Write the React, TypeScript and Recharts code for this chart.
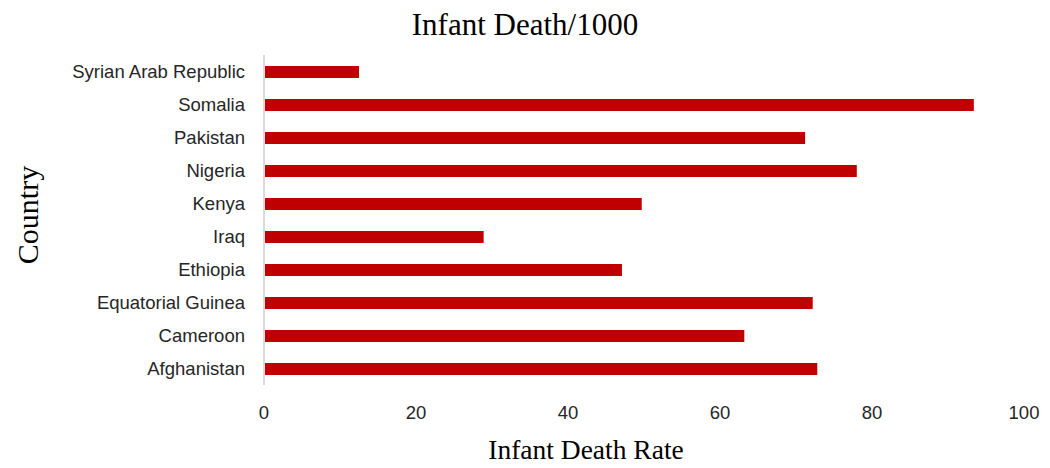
import { BarChart, Bar, XAxis, YAxis } from "recharts";

// listed bottom-to-top as in the source sheet
const countries = [
  "Afghanistan",
  "Cameroon",
  "Equatorial Guinea",
  "Ethiopia",
  "Iraq",
  "Kenya",
  "Nigeria",
  "Pakistan",
  "Somalia",
  "Syrian Arab Republic",
];
const deathRates = [72.8, 63.2, 72.2, 47.1, 28.9, 49.7, 78.0, 71.2, 93.4, 12.5];
const xTicks = [0, 20, 40, 60, 80, 100];

const data = countries.map((country, i) => ({ country, rate: deathRates[i] }));

const serif = "'Liberation Serif', 'Times New Roman', serif";
const sans = "'Liberation Sans', Arial, sans-serif";

export default function App() {
  return (
    <div style={{ position: "absolute", left: 0, top: 0, width: 1050, height: 468, background: "#fff" }}>
      <div
        style={{
          position: "absolute",
          left: 0,
          width: 1050,
          top: 8,
          textAlign: "center",
          fontFamily: serif,
          fontSize: 31,
          color: "#000",
          lineHeight: "34px",
        }}
      >
        Infant Death/1000
      </div>
      <BarChart
        width={1050}
        height={468}
        data={data}
        layout="vertical"
        margin={{ top: 55, right: 26, bottom: 53, left: 0 }}
      >
        <XAxis
          type="number"
          domain={[0, 100]}
          ticks={xTicks}
          axisLine={false}
          tickLine={false}
          tickMargin={15}
          height={30}
          tick={{ fontFamily: sans, fontSize: 18.5, fill: "#262626" }}
          label={{
            value: "Infant Death Rate",
            position: "bottom",
            offset: 24,
            dx: -58,
            style: { fontFamily: serif, fontSize: 27.5, fill: "#000" },
          }}
        />
        <YAxis
          type="category"
          dataKey="country"
          reversed
          width={264}
          axisLine={{ stroke: "#d9d9d9", strokeWidth: 2 }}
          tickLine={false}
          tickMargin={13}
          interval={0}
          tick={{ fontFamily: sans, fontSize: 18.5, fill: "#262626" }}
          label={{
            value: "Country",
            angle: -90,
            position: "center",
            dx: -105,
            dy: -5,
            style: { fontFamily: serif, fontSize: 30, fill: "#000" },
          }}
        />
        <Bar dataKey="rate" fill="#c00000" barSize={12} isAnimationActive={false} />
      </BarChart>
    </div>
  );
}
